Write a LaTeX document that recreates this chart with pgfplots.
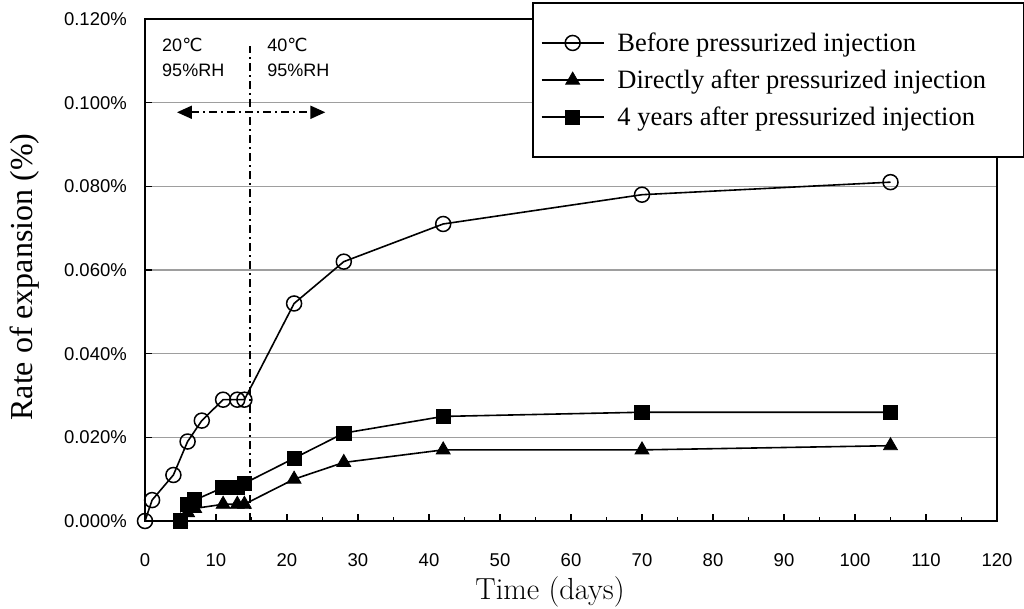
\documentclass[border=0pt]{standalone}
\usepackage{fontspec}
\newfontfamily\tms{Liberation Serif}
\newfontfamily\sans{Liberation Sans}
\newfontfamily\dv{DejaVu Sans}
\usepackage{pgfplots}
\pgfplotsset{compat=1.18}
\usetikzlibrary{arrows.meta}
\begin{document}
\begin{tikzpicture}
\useasboundingbox (-145pt,-87pt) rectangle (879pt,521pt);
\begin{axis}[
  scale only axis, width=852pt, height=502pt,
  at={(0,0)}, anchor=south west,
  clip=false,
  xmin=0, xmax=120, ymin=0, ymax=0.12,
  xtick={0,10,...,120}, minor xtick={5,15,...,115},
  ytick={0,0.02,0.04,0.06,0.08,0.1,0.12},
  yticklabels={0.000\%,0.020\%,0.040\%,0.060\%,0.080\%,0.100\%,0.120\%},
  /pgf/number format/assume math mode=true,
  tick align=inside, tick pos=left,
  major tick length=7pt, minor tick length=4pt,
  tick style={black, line width=1.3pt},
  axis line style={black, line width=2.5pt},
  ymajorgrids, major grid style={color=black!38, line width=1.4pt},
  xticklabel style={font=\sans\fontsize{18.5}{21}\selectfont, anchor=center, inner sep=0pt, yshift=-39pt},
  yticklabel style={font=\sans\fontsize{18.5}{21}\selectfont, anchor=east, inner sep=0pt, xshift=-18pt},
  xlabel={Time (days)},
  ylabel={\tms Rate of expansion (\%)},
  every axis x label/.style={at={(axis description cs:0.4754,-0.1414)}, anchor=center, font=\fontsize{30.5}{34}\selectfont},
  every axis y label/.style={at={(axis description cs:-0.1408,0.486)}, rotate=90, anchor=center, font=\fontsize{32}{36}\selectfont},
  legend style={at={(axis description cs:0.4542,1.0339)}, anchor=north west,
    draw=black, line width=1.8pt, fill=white,
    font=\tms\fontsize{26.5}{30}\selectfont,
    inner xsep=8pt, inner ysep=28pt, row sep=13pt,
    /tikz/every odd column/.append style={column sep=11pt}},
  legend cell align=left,
  legend image code/.code={\draw[mark repeat=2,mark phase=2] plot coordinates {(0pt,0pt) (31pt,0pt) (62pt,0pt)};},
]
\addplot[black, line width=1.6pt, mark=o, mark size=7.5pt, mark options={line width=1.5pt}] coordinates {
  (0,0) (1,0.005) (4,0.011) (6,0.019) (8,0.024) (11,0.029) (13,0.029) (14,0.029)
  (21,0.052) (28,0.062) (42,0.071) (70,0.078) (105,0.081)};
\addlegendentry{\makebox[396pt][l]{Before pressurized injection}}
\addplot[black, line width=1.6pt, mark=triangle*, mark size=8pt, mark options={line width=0.8pt}] coordinates {
  (5,0) (6,0.002) (7,0.003) (11,0.004) (13,0.004) (14,0.004)
  (21,0.010) (28,0.014) (42,0.017) (70,0.017) (105,0.018)};
\addlegendentry{Directly after pressurized injection}
\addplot[black, line width=1.6pt, mark=square*, mark size=7.2pt, mark options={line width=0.8pt}] coordinates {
  (5,0) (6,0.004) (7,0.005) (11,0.008) (13,0.008) (14,0.009)
  (21,0.015) (28,0.021) (42,0.025) (70,0.026) (105,0.026)};
\addlegendentry{4 years after pressurized injection}
\draw[line width=2pt, dash pattern=on 8pt off 4pt on 2pt off 4pt] (axis cs:14.8,0) -- (axis cs:14.8,0.1135);
\draw[line width=2pt, dash pattern=on 8pt off 4pt on 2pt off 4pt,
  {Triangle[length=15pt,width=13pt]}-{Triangle[length=15pt,width=13pt]}] (axis cs:4.5,0.0977) -- (axis cs:25.4,0.0977);
\node[anchor=base west, inner sep=0pt, font=\sans\fontsize{18}{20}\selectfont] at (axis cs:2.4,0.1123) {20{\dv ℃}};
\node[anchor=base west, inner sep=0pt, font=\sans\fontsize{18}{20}\selectfont] at (axis cs:2.4,0.1063) {95\%RH};
\node[anchor=base west, inner sep=0pt, font=\sans\fontsize{18}{20}\selectfont] at (axis cs:17.2,0.1123) {40{\dv ℃}};
\node[anchor=base west, inner sep=0pt, font=\sans\fontsize{18}{20}\selectfont] at (axis cs:17.2,0.1063) {95\%RH};
\end{axis}
\end{tikzpicture}
\end{document}
